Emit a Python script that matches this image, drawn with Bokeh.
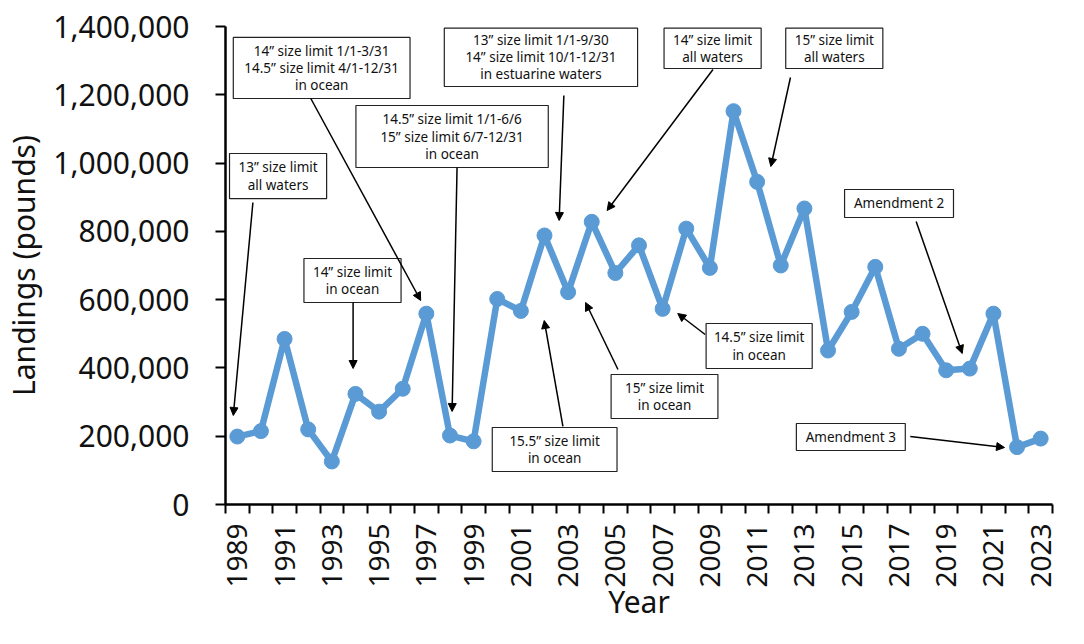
import math
from bokeh.plotting import figure
from bokeh.models import (Range1d, FixedTicker, NumeralTickFormatter, Arrow,
                          NormalHead, ColumnDataSource)
from bokeh.core.properties import value
from bokeh.embed import file_html
from bokeh.resources import INLINE

# ---------------- data ----------------
years = list(range(1989, 2024))
landings = [199000, 215000, 485000, 220000, 126000, 324000, 272000, 339000,
            559000, 202000, 185000, 602000, 567000, 788000, 622000, 828000,
            678000, 759000, 573000, 808000, 693000, 1152000, 945000, 700000,
            867000, 451000, 564000, 696000, 456000, 500000, 393000, 398000,
            559000, 168000, 193000]
label_years = list(range(1989, 2024, 2))
y_ticks = [0, 200000, 400000, 600000, 800000, 1000000, 1200000, 1400000]

# annotation texts
notes = [
    "13\u201d size limit\nall waters",
    "14\u201d size limit 1/1-3/31\n14.5\u201d size limit 4/1-12/31\nin ocean",
    "14\u201d size limit\nin ocean",
    "14.5\u201d size limit 1/1-6/6\n15\u201d size limit 6/7-12/31\nin ocean",
    "13\u201d size limit 1/1-9/30\n14\u201d size limit 10/1-12/31\nin estuarine waters",
    "14\u201d size limit\nall waters",
    "15\u201d size limit\nall waters",
    "Amendment 2",
    "14.5\u201d size limit\nin ocean",
    "15\u201d size limit\nin ocean",
    "15.5\u201d size limit\nin ocean",
    "Amendment 3",
]
# box layout (left, right, top, bottom) in data coords
box_left = [1988.67, 1988.83, 1991.82, 1994.02, 1997.76, 2007.06, 2012.21,
            2014.70, 2008.84, 2004.82, 1999.79, 2012.66]
box_right = [1992.78, 1996.31, 1995.93, 2002.16, 2005.94, 2011.17, 2016.32,
             2019.31, 2013.33, 2009.34, 2005.07, 2017.27]
box_top = [1028000, 1368000, 720500, 1168600, 1395000, 1395000, 1395000,
           922600, 530100, 380800, 225500, 237200]
box_bottom = [896000, 1189100, 591600, 987000, 1224300, 1277000, 1277000,
              840600, 398300, 251900, 96700, 158200]
# arrows (start -> tip) in data coords
arr_x0 = [1989.66, 1992.11, 1993.90, 1998.30, 2002.82, 2009.13, 2012.41,
          2017.73, 2008.80, 2005.11, 2002.78, 2017.48]
arr_y0 = [884500, 1189100, 591600, 987000, 1197900, 1274100, 1250600,
          828900, 497900, 395400, 228500, 199200]
arr_x1 = [1988.83, 1996.76, 1993.90, 1998.09, 2002.62, 2004.65, 2011.58,
          2019.68, 2007.64, 2003.74, 2001.99, 2021.47]
arr_y1 = [260700, 597500, 398300, 272400, 831800, 861100, 990000,
          442300, 559400, 591600, 538900, 166900]

FONT = "Noto Sans"
BLUE = "#5B9BD5"

p = figure(width=1068, height=628, output_backend="svg", toolbar_location=None,
           x_range=Range1d(1988.5, 2023.5), y_range=Range1d(0, 1400000),
           min_border_left=209, min_border_right=16, min_border_top=26,
           min_border_bottom=124)
p.outline_line_color = None
p.grid.visible = False
p.background_fill_color = "white"
p.border_fill_color = "white"

# line + markers
src = ColumnDataSource(dict(x=years, y=landings))
p.line("x", "y", source=src, line_color=BLUE, line_width=6.5)
p.scatter("x", "y", source=src, size=15, fill_color=BLUE, line_color=BLUE)

# annotation boxes
bsrc = ColumnDataSource(dict(l=box_left, r=box_right, t=box_top, b=box_bottom,
                             cx=[(a + b) / 2 for a, b in zip(box_left, box_right)],
                             cy=[(a + b) / 2 for a, b in zip(box_top, box_bottom)],
                             txt=notes))
p.quad(left="l", right="r", top="t", bottom="b", source=bsrc,
       fill_color="white", line_color="#222222", line_width=1.2)
p.text(x="cx", y="cy", text="txt", source=bsrc, text_align="center",
       text_baseline="middle", text_font=value(FONT), text_font_size="13.5px",
       text_line_height=0.95, text_color="#111111")

for x0, y0, x1, y1 in zip(arr_x0, arr_y0, arr_x1, arr_y1):
    p.add_layout(Arrow(x_start=x0, y_start=y0, x_end=x1, y_end=y1,
                       line_width=1.5, line_color="black",
                       end=NormalHead(size=8, fill_color="black",
                                      line_color="black", line_width=1)))

# x axis
xa = p.xaxis[0]
xa.ticker = FixedTicker(ticks=label_years,
                        minor_ticks=[y - 0.5 for y in years] + [2023.5])
xa.major_tick_line_color = None
xa.major_tick_out = 9
xa.major_tick_in = 0
xa.minor_tick_out = 9
xa.minor_tick_in = 0
xa.minor_tick_line_color = "black"
xa.minor_tick_line_width = 2
xa.axis_line_width = 2.5
xa.axis_line_color = "black"
xa.major_label_orientation = math.pi / 2
xa.major_label_text_font = FONT
xa.major_label_text_font_size = "28px"
xa.major_label_text_color = "#111111"
xa.major_label_standoff = 10
xa.axis_label = "Year"
xa.axis_label_text_font = FONT
xa.axis_label_text_font_size = "30px"
xa.axis_label_text_font_style = "normal"
xa.axis_label_text_color = "#111111"
xa.axis_label_standoff = -10

# y axis
ya = p.yaxis[0]
ya.ticker = FixedTicker(ticks=y_ticks)
ya.formatter = NumeralTickFormatter(format="0,0")
ya.major_tick_out = 10
ya.major_tick_in = 0
ya.major_tick_line_width = 2
ya.major_tick_line_color = "black"
ya.minor_tick_line_color = None
ya.axis_line_width = 2.5
ya.axis_line_color = "black"
ya.major_label_text_font = FONT
ya.major_label_text_font_size = "30px"
ya.major_label_text_color = "#111111"
ya.major_label_standoff = 26
ya.axis_label = "Landings (pounds)"
ya.axis_label_text_font = FONT
ya.axis_label_text_font_size = "30px"
ya.axis_label_text_font_style = "normal"
ya.axis_label_text_color = "#111111"
ya.axis_label_standoff = 6

open("out.html", "w").write(file_html(p, INLINE))
